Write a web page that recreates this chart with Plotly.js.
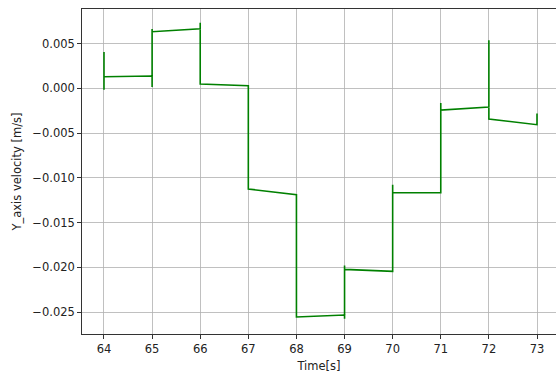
<!DOCTYPE html>
<html>
<head>
<meta charset="utf-8">
<script src="https://cdn.plot.ly/plotly-3.0.1.min.js"></script>
<style>
  html, body { margin: 0; padding: 0; background: #ffffff; }
  #chart { width: 556px; height: 376px; }
</style>
</head>
<body>
<div id="chart"></div>
<script>
// Sampled Y-axis velocity over time (step changes once per second)
const timeSec = [
  64, 64, 64, 65,
  65, 65, 65, 66,
  66, 66, 67,
  67, 68,
  68, 69,
  69, 69, 69, 70,
  70, 70, 71,
  71, 71, 72,
  72, 72, 73,
  73
];
const velocityY = [
  -0.00015, 0.00407, 0.00131, 0.00139,
  0.00016, 0.00664, 0.00634, 0.00667,
  0.00735, 0.00049, 0.00030,
  -0.01125, -0.01188,
  -0.02556, -0.02534,
  -0.02575, -0.01979, -0.02024, -0.02046,
  -0.01077, -0.01166, -0.01166,
  -0.00163, -0.00242, -0.00208,
  0.00537, -0.00342, -0.00406,
  -0.00280
];
const xTicks = [64, 65, 66, 67, 68, 69, 70, 71, 72, 73];
const yTicks = [0.005, 0.000, -0.005, -0.010, -0.015, -0.020, -0.025];
const yTickText = ['0.005', '0.000', '\u22120.005', '\u22120.010', '\u22120.015', '\u22120.020', '\u22120.025'];

const font = { family: 'DejaVu Sans, sans-serif', size: 11.5, color: '#222222' };

const trace = {
  x: timeSec,
  y: velocityY,
  type: 'scatter',
  mode: 'lines',
  line: { color: '#008000', width: 1.6 },
  hoverinfo: 'skip'
};

const layout = {
  width: 556,
  height: 376,
  margin: { l: 82, r: 0, t: 9, b: 42 },
  paper_bgcolor: '#ffffff',
  plot_bgcolor: '#ffffff',
  showlegend: false,
  font: font,
  xaxis: {
    range: [63.543, 73.395],
    tickvals: xTicks,
    ticktext: xTicks.map(String),
    ticks: 'outside',
    ticklen: 4,
    tickwidth: 0.8,
    tickcolor: '#000000',
    showline: true,
    linecolor: '#000000',
    linewidth: 0.8,
    mirror: true,
    showgrid: true,
    gridcolor: '#b0b0b0',
    gridwidth: 0.8,
    zeroline: false,
    tickfont: font,
    title: { text: 'Time[s]', font: font, standoff: 7 }
  },
  yaxis: {
    range: [-0.02746, 0.008877],
    tickvals: yTicks,
    ticktext: yTickText,
    ticks: 'outside',
    ticklen: 4,
    tickwidth: 0.8,
    tickcolor: '#000000',
    showline: true,
    linecolor: '#000000',
    linewidth: 0.8,
    mirror: false,
    showgrid: true,
    gridcolor: '#b0b0b0',
    gridwidth: 0.8,
    zeroline: false,
    tickfont: font,
    title: { text: 'Y_axis velocity [m/s]', font: font, standoff: 8 }
  }
};

Plotly.newPlot('chart', [trace], layout, { displayModeBar: false, staticPlot: true });
</script>
</body>
</html>
